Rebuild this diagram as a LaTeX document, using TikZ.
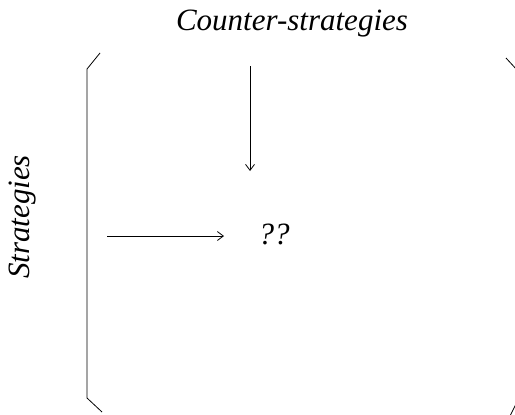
\documentclass[tikz,border=0pt]{standalone}
\usepackage{fontspec}
\setmainfont{Liberation Serif}
\usetikzlibrary{arrows.meta}
\tikzset{
  lbl/.style={font=\itshape\fontsize{31}{34}\selectfont, inner sep=0pt},
  conn/.style={line width=0.8pt, -{Straight Barb[length=6pt,width=9pt,line width=0.8pt]}},
  brk/.style={line width=0.8pt}
}
\begin{document}
\begin{tikzpicture}[x=1pt,y=-1pt]
\useasboundingbox (0,0) rectangle (515,415);
\clip (0,0) rectangle (515,415);
\node[lbl] (top) at (292,24) {Counter-strategies};
\node[lbl, rotate=90] (side) at (23,217) {Strategies};
\node[lbl] (q) at (274,234) {??};
\coordinate (vs) at (250,66);
\coordinate (ve) at (250,171);
\coordinate (hs) at (107,236);
\coordinate (he) at (224,236);
\draw[conn] (vs) -- (ve);
\draw[conn] (hs) -- (he);
\coordinate (l1) at (100,53);
\coordinate (l2) at (87,69);
\coordinate (l3) at (87,398);
\coordinate (l4) at (102,412);
\draw[brk] (l1) -- (l2) -- (l3) -- (l4);
\coordinate (r1) at (506,58);
\coordinate (r2) at (518,71);
\coordinate (r3) at (518,400);
\coordinate (r4) at (510,416);
\draw[brk] (r1) -- (r2) -- (r3) -- (r4);
\end{tikzpicture}
\end{document}
